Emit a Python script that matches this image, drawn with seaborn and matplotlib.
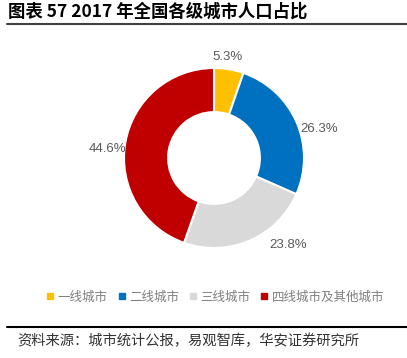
import matplotlib
matplotlib.use("Agg")
import matplotlib.pyplot as plt
from matplotlib.lines import Line2D
import seaborn as sns

# === Data ===
categories = ["一线城市", "二线城市", "三线城市", "四线城市及其他城市"]
shares = [5.3, 26.3, 23.8, 44.6]
colors = ["#FFC000", "#0070C0", "#D9D9D9", "#C00000"]

title = "图表 57 2017 年全国各级城市人口占比"
source = "资料来源：城市统计公报，易观智库，华安证券研究所"

sns.set_theme(style="white")
plt.rcParams["font.family"] = ["Noto Sans CJK SC", "DejaVu Sans"]

W, H = 407, 358
fig = plt.figure(figsize=(W / 100, H / 100), dpi=100)

# pie axes: centre (214, 158) px, radius 90 px, limits +-1.25
cx, cy, r, lim = 214, 158, 90, 1.25
side = 2 * r * lim
ax = fig.add_axes([(cx - side / 2) / W, (H - cy - side / 2) / H, side / W, side / H])

wedges, _, autotexts = ax.pie(
    shares, colors=colors, startangle=90, counterclock=False,
    wedgeprops=dict(width=0.49, edgecolor="white", linewidth=1.5),
    autopct="%.1f%%", pctdistance=1.2,
    textprops=dict(color="#595959", fontsize=9.5, family=["Liberation Sans", "DejaVu Sans"]),
)
# nudge labels a bit like Excel's best-fit placement (offsets in data units)
nudges = [(-0.05, -0.06), (0.07, -0.16), (0.35, 0.14), (0.0, -0.1)]
for t, (dx, dy) in zip(autotexts, nudges):
    x, y = t.get_position()
    t.set_position((x + dx, y + dy))
ax.set_xlim(-lim, lim)
ax.set_ylim(-lim, lim)
ax.set_aspect("equal")
ax.axis("off")

# title + rule
fig.text(8 / W, 1 - 12 / H, title, fontsize=12.5, fontweight="bold", color="black",
         va="center", ha="left")
fig.add_artist(Line2D([7 / W, 1], [1 - 24 / H, 1 - 24 / H], color="#404040", lw=1.5))

# legend
handles = [Line2D([], [], marker="s", linestyle="", markersize=4.5,
                  markerfacecolor=c, markeredgecolor=c) for c in colors]
fig.legend(handles, categories, loc="center", bbox_to_anchor=(214 / W, 1 - 297 / H),
           ncol=4, frameon=False, fontsize=9, labelcolor="#7F7F7F",
           handletextpad=0.1, columnspacing=0.6, handlelength=1.0)

# source + rule
fig.add_artist(Line2D([7 / W, 1], [1 - 327 / H, 1 - 327 / H], color="black", lw=1.5))
fig.text(17 / W, 1 - 341 / H, source, fontsize=10.3, color="#333333", va="center", ha="left")

fig.savefig("out.png", dpi=100)
